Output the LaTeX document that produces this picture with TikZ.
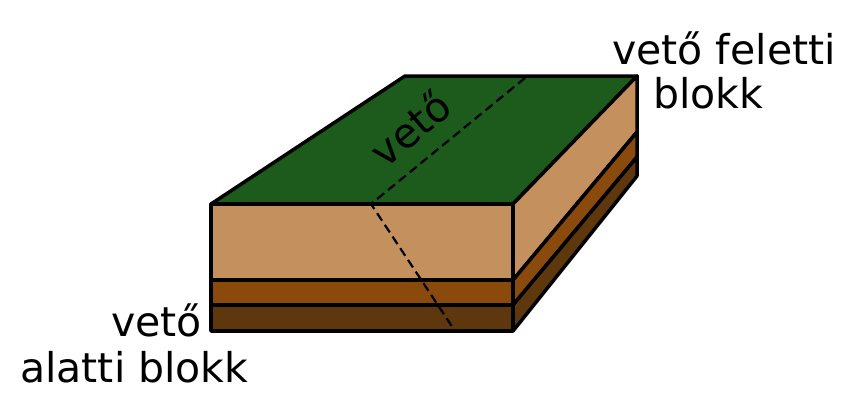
\documentclass[tikz,border=0pt]{standalone}
\usepackage{fontspec}
\setmainfont{DejaVu Sans}
\begin{document}
\begin{tikzpicture}[x=1pt,y=-1pt,
  face/.style={draw=black,line width=3.5pt,line join=round},
  fault/.style={black,line width=2.2pt,dash pattern=on 9pt off 5pt},
  lbl/.style={font=\fontsize{41}{45}\selectfont,inner sep=0pt}]
\definecolor{grass}{HTML}{1C5B1C}
\definecolor{tan}{HTML}{C4915E}
\definecolor{brn}{HTML}{8A4A0C}
\definecolor{dbrn}{HTML}{5E370C}
\useasboundingbox (0,0) rectangle (854,402);
% top
\filldraw[face,fill=grass] (211,204) -- (405,76) -- (637,76) -- (513,204) -- cycle;
% front layers
\filldraw[face,fill=tan] (211,204) rectangle (513,280);
\filldraw[face,fill=brn] (211,280) rectangle (513,305);
\filldraw[face,fill=dbrn] (211,305) rectangle (513,331);
% right side layers
\filldraw[face,fill=tan] (513,204) -- (637,76) -- (637,132) -- (513,280) -- cycle;
\filldraw[face,fill=brn] (513,280) -- (637,132) -- (637,157) -- (513,305) -- cycle;
\filldraw[face,fill=dbrn] (513,305) -- (637,157) -- (637,176) -- (513,331) -- cycle;
% fault
\coordinate (f1) at (525,78);
\coordinate (f2) at (371,204);
\coordinate (f3) at (455,331);
\draw[fault] (f1) -- (f2) -- (f3);
\node[lbl,rotate=40] (v) at (410,128) {vető};
\node[lbl,anchor=base east] (a) at (836,64) {vető feletti};
\node[lbl,anchor=base] (b) at (708,108) {blokk};
\node[lbl,anchor=base east] (c) at (202,336) {vető};
\node[lbl,anchor=base west] (d) at (20,382) {alatti blokk};
\end{tikzpicture}
\end{document}
